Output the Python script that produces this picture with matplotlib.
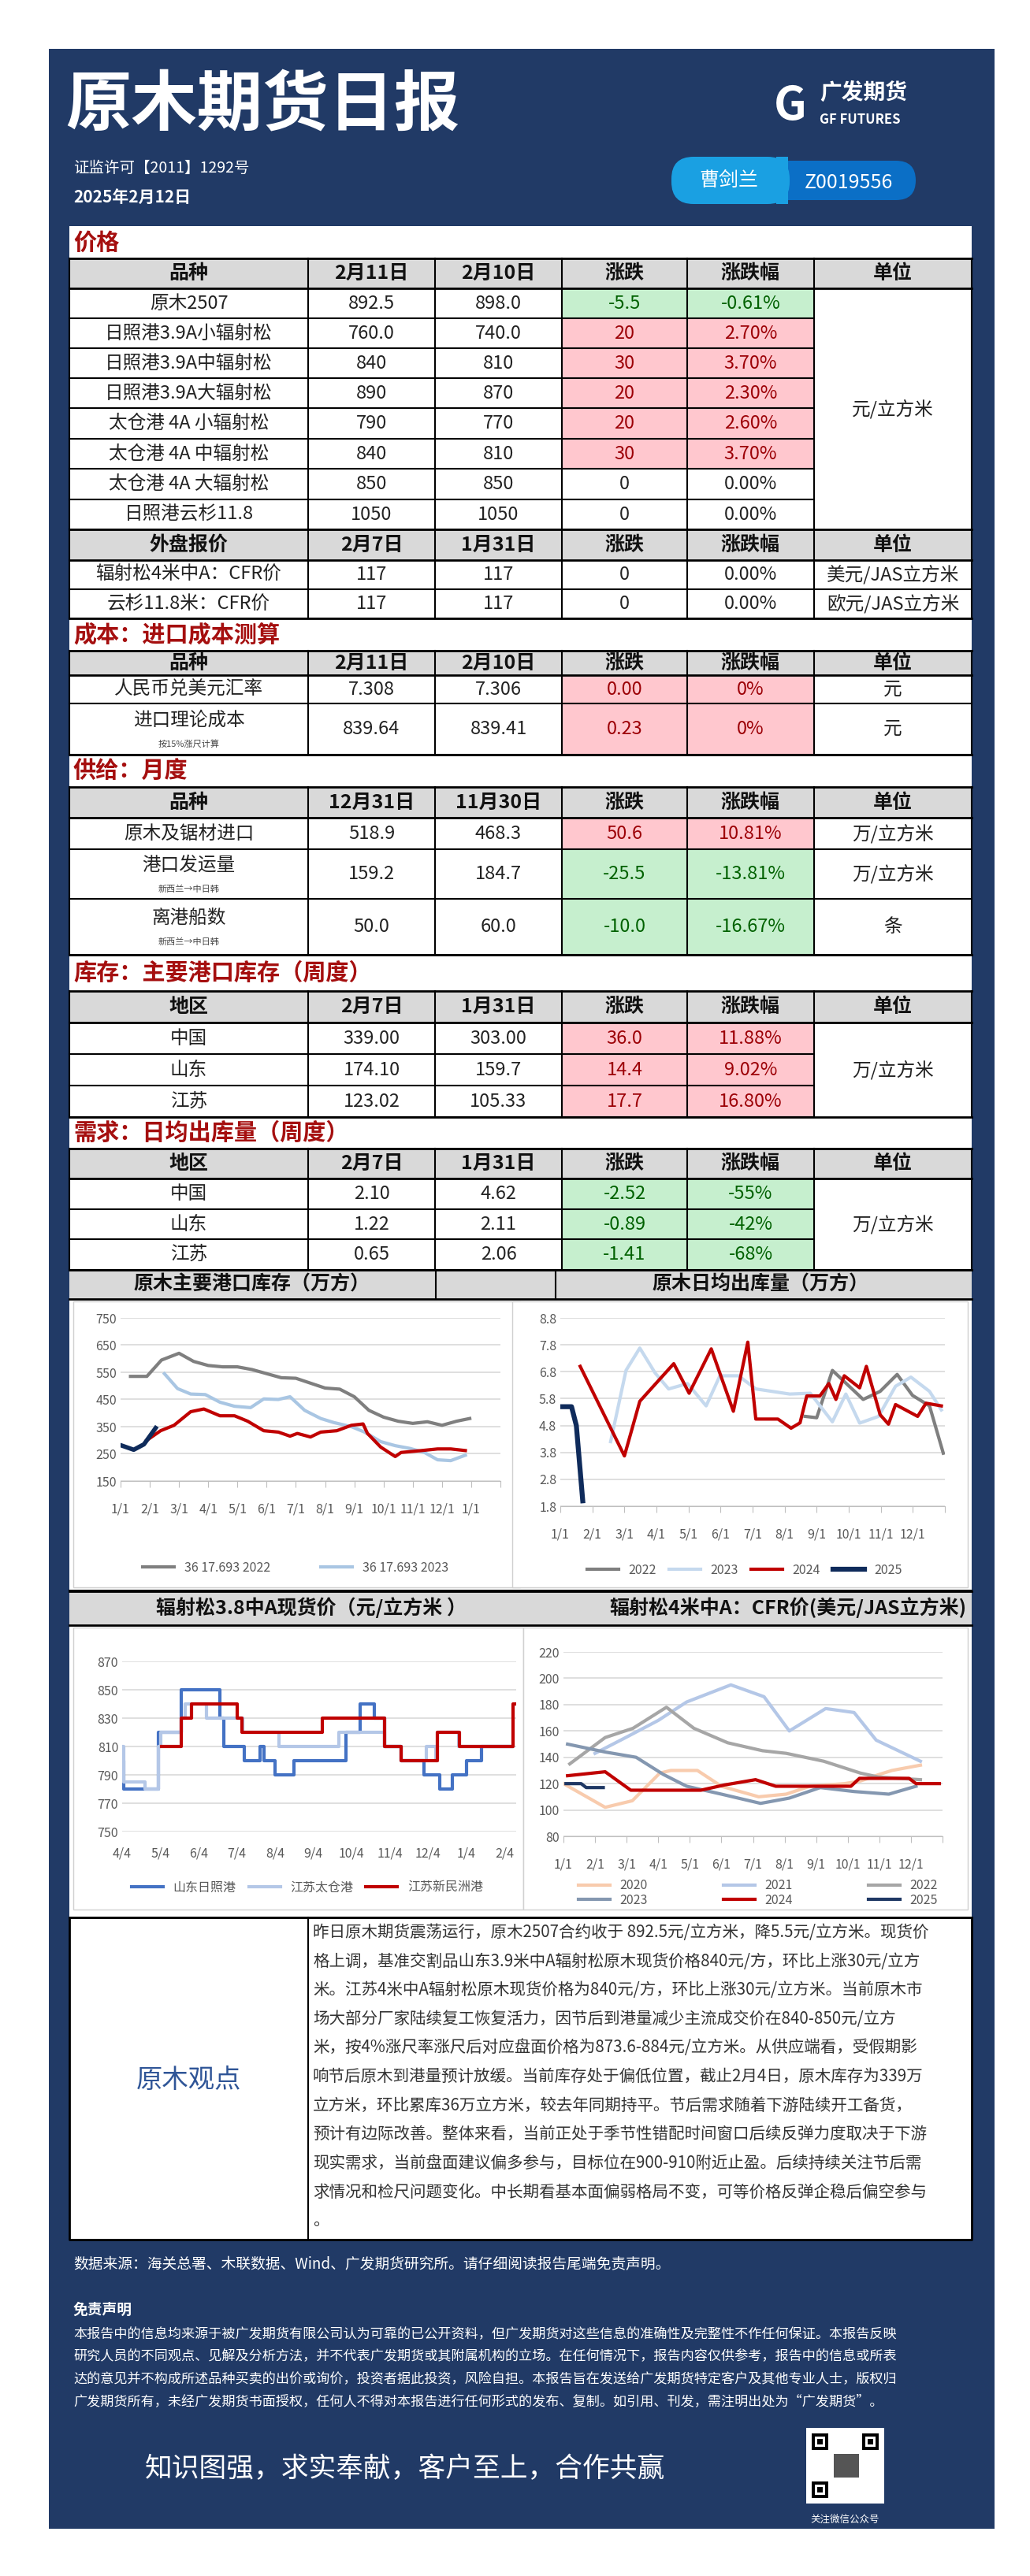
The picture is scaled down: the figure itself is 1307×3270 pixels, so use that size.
import matplotlib
matplotlib.use("Agg")
import matplotlib.pyplot as plt
from matplotlib.patches import Rectangle, FancyBboxPatch

plt.rcParams['font.family'] = ['Noto Sans CJK SC', 'DejaVu Sans']

W, H = 1307, 3270
NAVY = '#213a66'
GRAYH = '#d9d9d9'
REDF, REDT = '#ffc7ce', '#9c0006'
GRNF, GRNT = '#c6efce', '#006100'
SECT = '#a50f0f'

# ---------------- data ----------------
price_head = ['品种', '2月11日', '2月10日', '涨跌', '涨跌幅', '单位']
price_names = ['原木2507', '日照港3.9A小辐射松', '日照港3.9A中辐射松', '日照港3.9A大辐射松',
               '太仓港 4A 小辐射松', '太仓港 4A 中辐射松', '太仓港 4A 大辐射松', '日照港云杉11.8']
price_d1 = ['892.5', '760.0', '840', '890', '790', '840', '850', '1050']
price_d2 = ['898.0', '740.0', '810', '870', '770', '810', '850', '1050']
price_chg = ['-5.5', '20', '30', '20', '20', '30', '0', '0']
price_pct = ['-0.61%', '2.70%', '3.70%', '2.30%', '2.60%', '3.70%', '0.00%', '0.00%']
price_unit = '元/立方米'

ext_head = ['外盘报价', '2月7日', '1月31日', '涨跌', '涨跌幅', '单位']
ext_names = ['辐射松4米中A：CFR价', '云杉11.8米：CFR价']
ext_d1 = ['117', '117']
ext_d2 = ['117', '117']
ext_chg = ['0', '0']
ext_pct = ['0.00%', '0.00%']
ext_unit = ['美元/JAS立方米', '欧元/JAS立方米']

cost_head = ['品种', '2月11日', '2月10日', '涨跌', '涨跌幅', '单位']
cost_names = ['人民币兑美元汇率', '进口理论成本']
cost_sub = ['', '按15%涨尺计算']
cost_d1 = ['7.308', '839.64']
cost_d2 = ['7.306', '839.41']
cost_chg = ['0.00', '0.23']
cost_pct = ['0%', '0%']
cost_unit = ['元', '元']

sup_head = ['品种', '12月31日', '11月30日', '涨跌', '涨跌幅', '单位']
sup_names = ['原木及锯材进口', '港口发运量', '离港船数']
sup_sub = ['', '新西兰→中日韩', '新西兰→中日韩']
sup_d1 = ['518.9', '159.2', '50.0']
sup_d2 = ['468.3', '184.7', '60.0']
sup_chg = ['50.6', '-25.5', '-10.0']
sup_pct = ['10.81%', '-13.81%', '-16.67%']
sup_unit = ['万/立方米', '万/立方米', '条']

inv_head = ['地区', '2月7日', '1月31日', '涨跌', '涨跌幅', '单位']
inv_names = ['中国', '山东', '江苏']
inv_d1 = ['339.00', '174.10', '123.02']
inv_d2 = ['303.00', '159.7', '105.33']
inv_chg = ['36.0', '14.4', '17.7']
inv_pct = ['11.88%', '9.02%', '16.80%']

dem_head = ['地区', '2月7日', '1月31日', '涨跌', '涨跌幅', '单位']
dem_names = ['中国', '山东', '江苏']
dem_d1 = ['2.10', '1.22', '0.65']
dem_d2 = ['4.62', '2.11', '2.06']
dem_chg = ['-2.52', '-0.89', '-1.41']
dem_pct = ['-55%', '-42%', '-68%']
area_unit = '万/立方米'

# chart 1: port inventory (x = months since 1/1)
inv_months = ['1/1', '2/1', '3/1', '4/1', '5/1', '6/1', '7/1', '8/1', '9/1', '10/1', '11/1', '12/1', '1/1']
inv22_x = [0.34, 0.9, 1.4, 2.0, 2.5, 3.0, 3.5, 4.0, 4.5, 5.0, 5.5, 6.0, 6.5, 7.0, 7.5, 8.0, 8.5, 9.0, 9.5, 10.0, 10.5, 11.0, 11.5, 11.95]
inv22_y = [535, 535, 595, 620, 590, 575, 570, 570, 560, 545, 530, 528, 510, 492, 488, 460, 410, 385, 370, 362, 368, 355, 370, 380]
inv23_x = [1.5, 1.95, 2.4, 2.9, 3.4, 3.9, 4.45, 4.9, 5.4, 5.8, 6.3, 6.85, 7.3, 7.9, 8.35, 8.9, 9.4, 9.9, 10.4, 10.85, 11.3, 11.8]
inv23_y = [545, 490, 470, 468, 440, 425, 420, 452, 450, 460, 410, 380, 365, 350, 330, 295, 280, 270, 255, 228, 225, 245]
inv24_x = [0.9, 1.37, 1.83, 2.4, 2.85, 3.4, 3.9, 4.35, 4.9, 5.4, 5.8, 6.05, 6.5, 6.85, 7.4, 7.9, 8.3, 8.45, 8.9, 9.4, 9.6, 10.3, 10.85, 11.3, 11.8]
inv24_y = [300, 335, 355, 405, 415, 390, 390, 370, 335, 330, 315, 325, 312, 330, 335, 355, 360, 325, 275, 240, 255, 262, 268, 268, 262]
inv25_x = [0.05, 0.45, 0.8, 1.2]
inv25_y = [280, 265, 285, 345]

# chart 2: daily outflow
out_months = ['1/1', '2/1', '3/1', '4/1', '5/1', '6/1', '7/1', '8/1', '9/1', '10/1', '11/1', '12/1']
out22_x = [7.64, 8.0, 8.49, 8.97, 9.45, 9.98, 10.51, 10.99, 11.52, 11.95]
out22_y = [5.14, 5.09, 6.85, 6.31, 5.77, 6.07, 6.7, 5.92, 5.53, 3.77]
out23_x = [1.57, 2.05, 2.48, 2.96, 3.38, 3.97, 4.55, 4.98, 5.56, 6.1, 7.16, 7.8, 8.49, 8.91, 9.34, 9.93, 10.46, 10.94, 11.52, 11.89]
out23_y = [4.2, 6.85, 7.68, 6.75, 6.16, 6.36, 5.53, 6.65, 6.65, 6.16, 5.97, 6.0, 4.94, 5.97, 4.89, 5.14, 6.26, 6.6, 6.07, 5.38]
out24_x = [0.62, 2.0, 2.48, 3.54, 4.02, 4.71, 5.4, 5.85, 6.1, 6.79, 7.2, 7.48, 7.69, 8.1, 8.38, 8.6, 8.86, 9.34, 9.55, 9.98, 10.24, 10.46, 11.15, 11.41, 11.89]
out24_y = [7.0, 3.67, 5.7, 7.1, 6.0, 7.65, 5.33, 7.9, 5.04, 5.04, 4.7, 4.9, 5.9, 5.9, 6.36, 5.77, 6.65, 6.2, 7.0, 5.2, 4.85, 5.58, 5.14, 5.63, 5.53]
out25_x = [0.0, 0.35, 0.5, 0.7]
out25_y = [5.5, 5.5, 4.8, 2.0]

# chart 3: spot price 3.8m A (x = months since 4/4)
spot_months = ['4/4', '5/4', '6/4', '7/4', '8/4', '9/4', '10/4', '11/4', '12/4', '1/4', '2/4']
sd_x = [0.0, 0.05, 0.95, 1.55, 2.56, 2.66, 2.86, 3.2, 3.6, 3.7, 4.0, 4.5, 5.78, 5.85, 6.23, 6.6, 6.85, 7.3, 7.9, 8.3, 8.64, 9.0, 9.4, 10.2]
sd_y = [800, 780, 820, 850, 830, 810, 810, 800, 810, 800, 790, 800, 800, 820, 840, 830, 810, 800, 790, 780, 790, 800, 810, 810]
tc_x = [0.0, 0.05, 0.6, 0.95, 1.0, 1.55, 1.65, 2.2, 2.95, 3.15, 4.1, 5.66, 6.75, 6.85, 7.3, 7.95, 8.2, 8.25, 8.8, 10.2]
tc_y = [810, 785, 780, 810, 820, 830, 840, 830, 830, 820, 810, 820, 820, 810, 800, 810, 800, 820, 810, 810]
xm_x = [1.02, 1.55, 1.81, 3.0, 3.13, 5.23, 6.85, 7.3, 8.25, 8.82, 10.22, 10.26]
xm_y = [810, 830, 840, 830, 820, 830, 810, 800, 820, 810, 840, 840]

# chart 4: CFR price
cfr_months = ['1/1', '2/1', '3/1', '4/1', '5/1', '6/1', '7/1', '8/1', '9/1', '10/1', '11/1', '12/1']
c20_x = [0.0, 1.32, 2.18, 3.05, 3.4, 4.24, 5.0, 6.18, 7.05, 7.8, 8.9, 9.4, 10.0, 10.4, 11.3]
c20_y = [120, 102, 107, 128, 130, 130, 118, 110, 112, 118, 120, 122, 127, 130, 134]
c21_x = [1.0, 1.97, 3.0, 3.9, 5.3, 6.35, 7.15, 8.3, 9.2, 9.9, 11.3]
c21_y = [143, 155, 168, 182, 195, 186, 160, 177, 174, 153, 137]
c22_x = [0.2, 1.32, 2.2, 3.26, 4.13, 5.2, 6.3, 7.05, 8.24, 9.4, 9.97, 11.3]
c22_y = [135, 155, 162, 178, 162, 151, 145, 143, 137, 128, 125, 123]
c23_x = [0.13, 1.32, 2.3, 3.16, 3.9, 5.0, 6.24, 7.15, 8.13, 9.2, 10.3, 11.16]
c23_y = [150, 144, 140, 127, 118, 112, 105, 109, 117, 114, 112, 118]
c24_x = [0.13, 1.32, 2.13, 4.35, 5.1, 6.08, 6.72, 9.1, 9.37, 10.94, 11.16, 11.9]
c24_y = [126, 129, 115, 115, 119, 123, 118, 118, 124, 124, 120, 120]
c25_x = [0.08, 0.56, 0.72, 1.26]
c25_y = [120, 120, 117, 117]

view_lines = [
    '昨日原木期货震荡运行，原木2507合约收于 892.5元/立方米，降5.5元/立方米。现货价',
    '格上调，基准交割品山东3.9米中A辐射松原木现货价格840元/方，环比上涨30元/立方',
    '米。江苏4米中A辐射松原木现货价格为840元/方，环比上涨30元/立方米。当前原木市',
    '场大部分厂家陆续复工恢复活力，因节后到港量减少主流成交价在840-850元/立方',
    '米，按4%涨尺率涨尺后对应盘面价格为873.6-884元/立方米。从供应端看，受假期影',
    '响节后原木到港量预计放缓。当前库存处于偏低位置，截止2月4日，原木库存为339万',
    '立方米，环比累库36万立方米，较去年同期持平。节后需求随着下游陆续开工备货，',
    '预计有边际改善。整体来看，当前正处于季节性错配时间窗口后续反弹力度取决于下游',
    '现实需求，当前盘面建议偏多参与，目标位在900-910附近止盈。后续持续关注节后需',
    '求情况和检尺问题变化。中长期看基本面偏弱格局不变，可等价格反弹企稳后偏空参与',
    '。',
]
disc_lines = [
    '本报告中的信息均来源于被广发期货有限公司认为可靠的已公开资料，但广发期货对这些信息的准确性及完整性不作任何保证。本报告反映',
    '研究人员的不同观点、见解及分析方法，并不代表广发期货或其附属机构的立场。在任何情况下，报告内容仅供参考，报告中的信息或所表',
    '达的意见并不构成所述品种买卖的出价或询价，投资者据此投资，风险自担。本报告旨在发送给广发期货特定客户及其他专业人士，版权归',
    '广发期货所有，未经广发期货书面授权，任何人不得对本报告进行任何形式的发布、复制。如引用、刊发，需注明出处为“广发期货”。',
]

# ---------------- layout ----------------
fig = plt.figure(figsize=(W / 100, H / 100), dpi=100)
bg = fig.add_axes([0, 0, 1, 1])
bg.set_xlim(0, W)
bg.set_ylim(H, 0)
bg.axis('off')


def rect(x0, y0, x1, y1, fc='white', ec='none', lw=0, z=1):
    bg.add_patch(Rectangle((x0, y0), x1 - x0, y1 - y0, facecolor=fc, edgecolor=ec, linewidth=lw, zorder=z))


def txt(x, y, s, size=15, color='#222222', ha='center', weight='normal', z=5, **kw):
    bg.text(x, y, s, fontsize=size, color=color, ha=ha, va='center', fontweight=weight, zorder=z, **kw)


rect(62, 62, 1262, 3210, fc=NAVY)
rect(88, 287, 1233, 2843, fc='white', z=1)

# header
txt(83, 135, '原木期货日报', size=60, color='white', ha='left', weight='bold')
txt(93, 213, '证监许可【2011】1292号', size=14, color='white', ha='left')
txt(93, 250, '2025年2月12日', size=15, color='white', ha='left', weight='bold')
bg.add_patch(FancyBboxPatch((862, 204), 300, 50, boxstyle='round,pad=0,rounding_size=25',
                            facecolor='#0b6fc6', edgecolor='none', zorder=3))
bg.add_patch(FancyBboxPatch((852, 199), 150, 60, boxstyle='round,pad=0,rounding_size=28',
                            facecolor='#1aa0e2', edgecolor='none', zorder=3))
rect(985, 199, 1000, 259, fc='#1aa0e2', z=3)
txt(925, 229, '曹剑兰', size=18, color='white', z=6)
txt(1077, 232, 'Z0019556', size=18, color='white', z=6)
txt(1003, 135, 'G', size=42, color='white', weight='bold', style='italic')
txt(1040, 118, '广发期货', size=20, color='white', ha='left', weight='bold')
txt(1040, 152, 'GF FUTURES', size=12, color='white', ha='left', weight='bold')

XS = [88, 391, 552, 713, 872, 1033, 1233]
FS = 17


def section_title(y0, y1, s):
    rect(88, y0, 1233, y1, fc='white')
    txt(93, (y0 + y1) / 2, s, size=21, color=SECT, ha='left', weight='bold')
    bg.plot([88, 1233], [y1, y1], color='black', lw=2, zorder=4)


def header_row(y0, y1, cells):
    rect(88, y0, 1233, y1, fc=GRAYH)
    for i, c in enumerate(cells):
        txt((XS[i] + XS[i + 1]) / 2, (y0 + y1) / 2, c, size=FS + 1, color='#111111', weight='bold')
    for x in XS:
        bg.plot([x, x], [y0, y1], color='black', lw=1.5, zorder=4)
    bg.plot([88, 1233], [y1, y1], color='black', lw=2, zorder=4)


def fill_for(chg):
    v = float(chg)
    if v > 0:
        return REDF, REDT
    if v < 0:
        return GRNF, GRNT
    return None, '#222222'


def data_rows(ys, names, d1, d2, chg, pct, subs=None, force=None, unit_cells=None, merged_unit=None):
    n = len(names)
    for i in range(n):
        y0, y1 = ys[i], ys[i + 1]
        ym = (y0 + y1) / 2
        fc, tc = fill_for(chg[i])
        if force is not None:
            fc, tc = force
        if fc:
            rect(XS[3], y0, XS[5], y1, fc=fc, z=2)
        if subs and subs[i]:
            txt((XS[0] + XS[1]) / 2, ym - 11, names[i], size=FS)
            txt((XS[0] + XS[1]) / 2, ym + 19, subs[i], size=8, color='#444444')
        else:
            txt((XS[0] + XS[1]) / 2, ym, names[i], size=FS)
        txt((XS[1] + XS[2]) / 2, ym, d1[i], size=FS)
        txt((XS[2] + XS[3]) / 2, ym, d2[i], size=FS)
        txt((XS[3] + XS[4]) / 2, ym, chg[i], size=FS, color=tc)
        txt((XS[4] + XS[5]) / 2, ym, pct[i], size=FS, color=tc)
        if unit_cells:
            txt((XS[5] + XS[6]) / 2, ym, unit_cells[i], size=FS)
            bg.plot([XS[0], XS[6]], [y1, y1], color='black', lw=1.5, zorder=4)
        else:
            bg.plot([XS[0], XS[5]], [y1, y1], color='black', lw=1.5, zorder=4)
    if merged_unit:
        txt((XS[5] + XS[6]) / 2, (ys[0] + ys[-1]) / 2, merged_unit, size=FS)
    for x in XS:
        bg.plot([x, x], [ys[0], ys[-1]], color='black', lw=1.5, zorder=4)
    bg.plot([XS[0], XS[6]], [ys[-1], ys[-1]], color='black', lw=2, zorder=4)


section_title(287, 328, '价格')
header_row(328, 366, price_head)
data_rows([366, 404, 442, 480, 518, 557, 595, 634, 672], price_names, price_d1, price_d2,
          price_chg, price_pct, merged_unit=price_unit)
header_row(672, 711, ext_head)
data_rows([711, 748, 785], ext_names, ext_d1, ext_d2, ext_chg, ext_pct, unit_cells=ext_unit)

section_title(785, 826, '成本：进口成本测算')
header_row(826, 857, cost_head)
data_rows([857, 893, 958], cost_names, cost_d1, cost_d2, cost_chg, cost_pct, subs=cost_sub,
          force=(REDF, REDT), unit_cells=cost_unit)

section_title(958, 999, '供给：月度')
header_row(999, 1038, sup_head)
data_rows([1038, 1078, 1141, 1212], sup_names, sup_d1, sup_d2, sup_chg, sup_pct, subs=sup_sub,
          unit_cells=sup_unit)

section_title(1212, 1258, '库存：主要港口库存（周度）')
header_row(1258, 1298, inv_head)
data_rows([1298, 1338, 1378, 1418], inv_names, inv_d1, inv_d2, inv_chg, inv_pct, merged_unit=area_unit)

section_title(1418, 1458, '需求：日均出库量（周度）')
header_row(1458, 1496, dem_head)
data_rows([1496, 1535, 1573, 1612], dem_names, dem_d1, dem_d2, dem_chg, dem_pct, merged_unit=area_unit)

# chart title bars
for (y0, y1) in [(1612, 1649), (2020, 2063)]:
    rect(88, y0, 1233, y1, fc=GRAYH)
    bg.plot([88, 1233], [y1, y1], color='black', lw=2, zorder=4)
    bg.plot([88, 1233], [y0, y0], color='black', lw=2, zorder=4)
bg.plot([553, 553], [1612, 1649], color='black', lw=1.5, zorder=4)
bg.plot([705, 705], [1612, 1649], color='black', lw=1.5, zorder=4)
txt(320, 1630, '原木主要港口库存（万方）', size=18, color='#111111', weight='bold')
txt(965, 1630, '原木日均出库量（万方）', size=18, color='#111111', weight='bold')
txt(395, 2041, '辐射松3.8中A现货价（元/立方米 ）', size=18, color='#111111', weight='bold')
txt(1226, 2041, '辐射松4米中A：CFR价(美元/JAS立方米)', size=18, color='#111111', weight='bold', ha='right')
for (x0, y0, x1, y1) in [(93, 1652, 660, 2015), (650, 1652, 1228, 2015), (93, 2066, 664, 2424), (664, 2066, 1228, 2424)]:
    rect(x0, y0, x1, y1, fc='white', ec='#d0d0d0', lw=1, z=2)
bg.plot([88, 1233], [2019, 2019], color='black', lw=1.5, zorder=4)
bg.plot([88, 1233], [2434, 2434], color='black', lw=2, zorder=4)


def mk_axes(px0, px1, py_top, py_bot):
    ax = fig.add_axes([px0 / W, 1 - py_bot / H, (px1 - px0) / W, (py_bot - py_top) / H])
    ax.set_facecolor('none')
    for s in ['top', 'right', 'left']:
        ax.spines[s].set_visible(False)
    ax.spines['bottom'].set_color('#bfbfbf')
    ax.tick_params(axis='y', length=0, labelsize=11.5, labelcolor='#595959')
    ax.tick_params(axis='x', length=6, color='#bfbfbf', labelsize=11.5, labelcolor='#595959', pad=14)
    ax.grid(axis='y', color='#d9d9d9', lw=1.2)
    ax.set_axisbelow(True)
    return ax


LW = 3
# chart 1
ax1 = mk_axes(153, 635, 1673, 1880)
ax1.plot(inv22_x, inv22_y, color='#7f7f7f', lw=LW, label='36 17.693 2022')
ax1.plot(inv23_x, inv23_y, color='#a9c6e3', lw=LW, label='36 17.693 2023')
ax1.plot(inv24_x, inv24_y, color='#c00000', lw=LW)
ax1.plot(inv25_x, inv25_y, color='#0f2b5b', lw=LW + 1)
ax1.set_xlim(0, 13)
ax1.set_ylim(150, 750)
ax1.set_yticks(range(150, 751, 100))
ax1.set_xticks(range(14))
ax1.set_xticklabels(inv_months + [''])
ax1.legend(loc='center', bbox_to_anchor=(375 / W, 1 - 1990 / H), bbox_transform=fig.transFigure,
           ncol=2, frameon=False, fontsize=11.5, labelcolor='#595959', handlelength=2.5, columnspacing=4)

# chart 2
ax2 = mk_axes(711, 1199, 1673, 1912)
ax2.plot(out22_x, out22_y, color='#7f7f7f', lw=LW, label='2022')
ax2.plot(out23_x, out23_y, color='#c5d9ee', lw=LW, label='2023')
ax2.plot(out24_x, out24_y, color='#c00000', lw=LW, label='2024')
ax2.plot(out25_x, out25_y, color='#0f2b5b', lw=LW + 1.5, label='2025')
ax2.set_xlim(0, 12)
ax2.set_ylim(1.8, 8.8)
ax2.set_yticks([1.8 + i for i in range(8)])
ax2.set_yticklabels(['%.1f' % (1.8 + i) for i in range(8)])
ax2.set_xticks(range(13))
ax2.set_xticklabels(out_months + [''])
ax2.legend(loc='center', bbox_to_anchor=(945 / W, 1 - 1993 / H), bbox_transform=fig.transFigure,
           ncol=4, frameon=False, fontsize=11.5, labelcolor='#595959', handlelength=2.5, columnspacing=1)

# chart 3
ax3 = mk_axes(155, 655, 2109, 2325)
ax3.plot(sd_x, sd_y, color='#4472c4', lw=LW, drawstyle='steps-post', label='山东日照港')
ax3.plot(tc_x, tc_y, color='#b4c7e7', lw=LW, drawstyle='steps-post', label='江苏太仓港')
ax3.plot(xm_x, xm_y, color='#c00000', lw=LW, drawstyle='steps-post', label='江苏新民洲港')
ax3.set_xlim(0, 10.3)
ax3.set_ylim(750, 870)
ax3.set_yticks(range(750, 871, 20))
ax3.set_xticks(range(11))
ax3.set_xticklabels(spot_months)
ax3.tick_params(axis='x', length=0)
ax3.spines['bottom'].set_visible(False)
ax3.legend(loc='center', bbox_to_anchor=(390 / W, 1 - 2396 / H), bbox_transform=fig.transFigure,
           ncol=3, frameon=False, fontsize=11.5, labelcolor='#595959', handlelength=2.5, columnspacing=1)

# chart 4
ax4 = mk_axes(715, 1196, 2097, 2331)
l20, = ax4.plot(c20_x, c20_y, color='#f8cbad', lw=LW, label='2020')
l21, = ax4.plot(c21_x, c21_y, color='#b4c7e7', lw=LW, label='2021')
l22, = ax4.plot(c22_x, c22_y, color='#a6a6a6', lw=LW, label='2022')
l23, = ax4.plot(c23_x, c23_y, color='#8497b0', lw=LW, label='2023')
l24, = ax4.plot(c24_x, c24_y, color='#c00000', lw=LW, label='2024')
l25, = ax4.plot(c25_x, c25_y, color='#1f3864', lw=LW, label='2025')
ax4.set_xlim(0, 12)
ax4.set_ylim(80, 220)
ax4.set_yticks(range(80, 221, 20))
ax4.set_xticks(range(13))
ax4.set_xticklabels(cfr_months + [''])
hs = [l20, l23, l21, l24, l22, l25]
ax4.legend(hs, [h.get_label() for h in hs], loc='center', bbox_to_anchor=(962 / W, 1 - 2403 / H),
           bbox_transform=fig.transFigure, ncol=3, frameon=False, fontsize=11.5, labelcolor='#595959',
           handlelength=2.5, columnspacing=6, labelspacing=0.1)

# view
rect(88, 2434, 1233, 2843, fc='white', z=1)
bg.plot([391, 391], [2434, 2843], color='black', lw=1.5, zorder=4)
bg.plot([88, 1233, 1233, 88, 88], [2434, 2434, 2843, 2843, 2434], color='black', lw=2, zorder=4)
txt(240, 2640, '原木观点', size=24, color='#2f5597')
for i, s in enumerate(view_lines):
    txt(397, 2453 + i * 36.6, s, size=14.8, color='#333333', ha='left')

txt(93, 2875, '数据来源：海关总署、木联数据、Wind、广发期货研究所。请仔细阅读报告尾端免责声明。', size=13.5,
    color='white', ha='left')
txt(93, 2932, '免责声明', size=13.5, color='white', ha='left', weight='bold')
for i, s in enumerate(disc_lines):
    txt(93, 2963 + i * 28.5, s, size=12.3, color='white', ha='left')
txt(184, 3135, '知识图强，求实奉献，客户至上，合作共赢', size=25, color='white', ha='left')

# QR placeholder
rect(1023, 3082, 1122, 3178, fc='white', z=3)
for (qx, qy) in [(1030, 3089), (1094, 3089), (1030, 3150)]:
    rect(qx, qy, qx + 21, qy + 21, fc='black', z=4)
    rect(qx + 4, qy + 4, qx + 17, qy + 17, fc='white', z=5)
    rect(qx + 7, qy + 7, qx + 14, qy + 14, fc='black', z=6)
rect(1058, 3115, 1090, 3145, fc='#555555', z=4)
txt(1072, 3198, '关注微信公众号', size=9, color='white')

fig.savefig('out.png', dpi=100)
